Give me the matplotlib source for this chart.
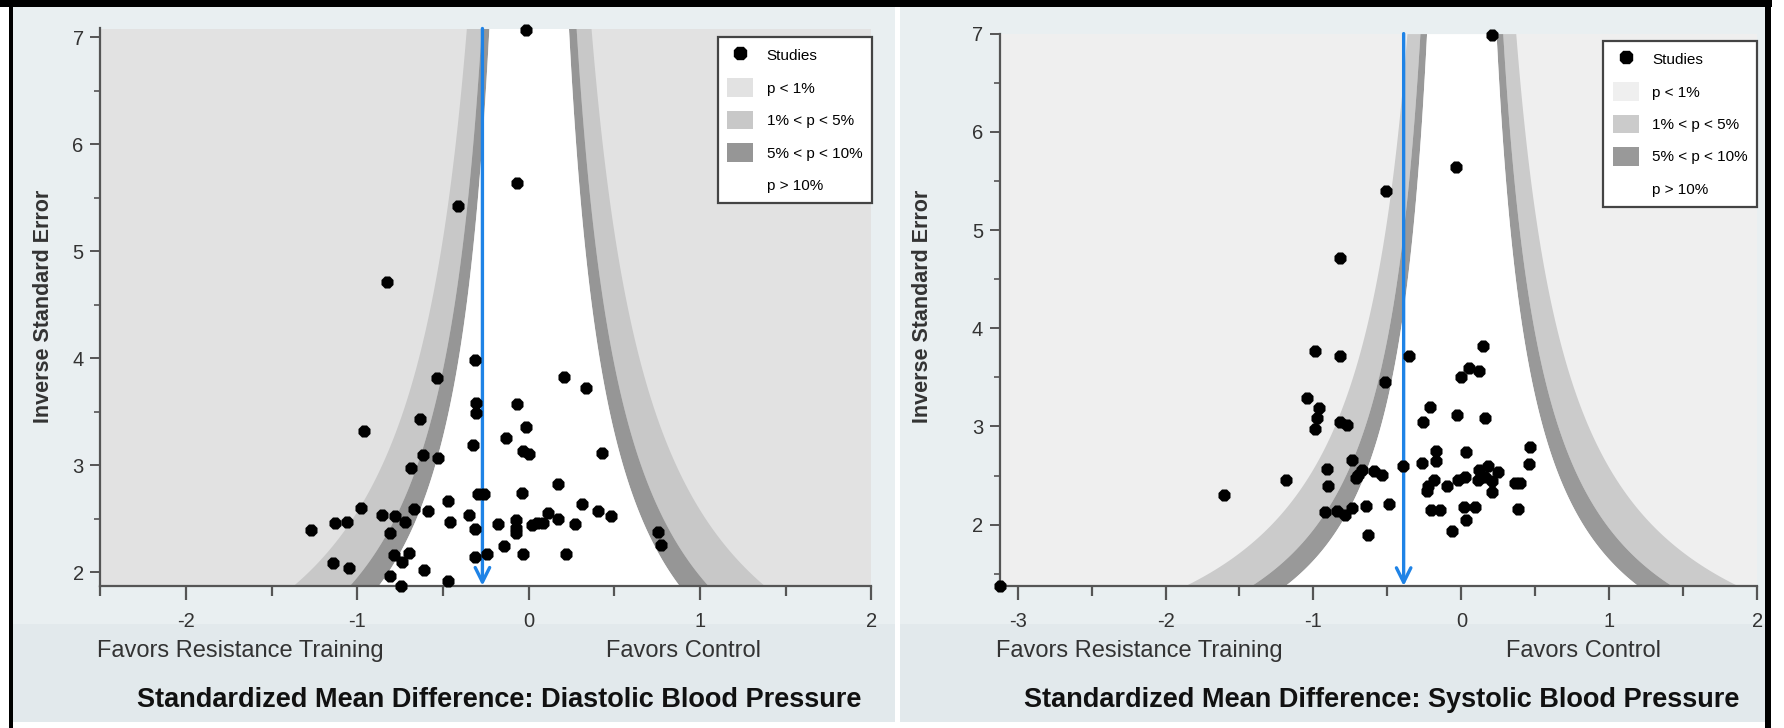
import numpy as np
import matplotlib
matplotlib.use("Agg")
import matplotlib.pyplot as plt
from matplotlib.patches import Rectangle, Patch
from matplotlib.lines import Line2D
from matplotlib import font_manager
from matplotlib.ticker import MultipleLocator

# ---------------- data ----------------
dbp_smd = [-0.016, -0.07, -0.414, -0.827, -0.315, -0.533, 0.208, 0.334, -0.307, -0.307,
           -0.07, -0.634, -0.959, -0.018, -0.131, -0.325, -0.619, -0.531, -0.031, 0.0,
           0.426, -0.685, 0.171, -0.294, -0.259, -0.037, -0.469, 0.311, -0.979, -0.668,
           -0.588, 0.406, -0.858, -0.780, -0.722, -0.347, 0.480, -1.13, -1.059, -1.27,
           -0.459, -0.313, -0.181, -0.076, -0.076, -0.076, 0.017, 0.05, 0.085, 0.115,
           0.173, 0.27, -0.81, 0.757, 0.77, -0.144, -0.784, -0.697, -0.312, -0.245,
           -0.031, 0.218, -0.738, -1.14, -1.049, -0.611, -0.811, -0.469, -0.747]
dbp_inv_se = [7.07, 5.64, 5.42, 4.71, 3.98, 3.81, 3.82, 3.72, 3.58, 3.49,
              3.57, 3.43, 3.32, 3.36, 3.25, 3.19, 3.09, 3.07, 3.13, 3.10,
              3.11, 2.97, 2.82, 2.73, 2.73, 2.74, 2.66, 2.64, 2.60, 2.59,
              2.57, 2.57, 2.53, 2.52, 2.47, 2.53, 2.52, 2.46, 2.47, 2.39,
              2.47, 2.40, 2.45, 2.49, 2.41, 2.36, 2.44, 2.46, 2.46, 2.55,
              2.50, 2.45, 2.36, 2.37, 2.25, 2.24, 2.16, 2.18, 2.14, 2.17,
              2.17, 2.17, 2.09, 2.08, 2.04, 2.02, 1.96, 1.92, 1.87]

sbp_smd = [0.208, -0.036, -0.511, -0.82, -0.82, -0.354, 0.145, -0.991, 0.054, 0.122,
           -0.004, -0.518, -1.041, -0.964, -0.212, -0.976, -0.029, 0.158, -0.989, -0.82,
           -0.775, -0.257, 0.465, -0.173, 0.03, -0.173, -0.268, -0.741, -0.392, 0.458,
           -0.91, -0.673, -0.588, -0.538, -0.696, -0.712, 0.122, 0.183, 0.25, 0.111,
           0.16, 0.205, 0.205, 0.025, -0.02, -0.099, -0.185, -0.223, -0.234, 0.363,
           0.397, 0.381, -1.185, -1.604, -0.899, -0.922, -0.843, -0.786, -0.741, -0.647,
           -0.489, -0.205, -0.144, 0.018, 0.093, 0.03, -0.065, -0.629, -3.12]
sbp_inv_se = [6.99, 5.64, 5.40, 4.71, 3.72, 3.72, 3.82, 3.77, 3.59, 3.56,
              3.50, 3.45, 3.29, 3.19, 3.20, 3.09, 3.12, 3.09, 2.97, 3.05,
              3.01, 3.04, 2.79, 2.75, 2.74, 2.65, 2.63, 2.66, 2.60, 2.62,
              2.57, 2.56, 2.55, 2.51, 2.51, 2.47, 2.56, 2.60, 2.54, 2.45,
              2.49, 2.44, 2.33, 2.49, 2.45, 2.39, 2.45, 2.39, 2.34, 2.42,
              2.42, 2.16, 2.45, 2.30, 2.39, 2.13, 2.14, 2.10, 2.17, 2.19,
              2.21, 2.15, 2.15, 2.18, 2.18, 2.05, 1.94, 1.89, 1.38]

dbp_pooled = -0.27
sbp_pooled = -0.39

# critical z values for contour bands (two-sided 10%, 5%, 1%)
Z_10, Z_05, Z_01 = 1.645, 1.960, 2.576

legend_labels = ["Studies", "p < 1%", "1% < p < 5%", "5% < p < 10%", "p > 10%"]
x_left_label = "Favors Resistance Training"
x_right_label = "Favors Control"
ylabel = "Inverse Standard Error"
titles = ["Standardized Mean Difference: Diastolic Blood Pressure",
          "Standardized Mean Difference: Systolic Blood Pressure"]

# ---------------- fonts ----------------
names = {f.name for f in font_manager.fontManager.ttflist}
fam = []
for n in ["Liberation Sans Narrow", "Liberation Sans", "DejaVu Sans"]:
    if n in names:
        fam.append(n)
plt.rcParams["font.family"] = fam
plt.rcParams["axes.unicode_minus"] = False

W, H = 1784, 728
fig = plt.figure(figsize=(W / 100, H / 100), dpi=100)
fig.patch.set_facecolor("white")

def px_rect(x0, y0, x1, y1, color, z=-5):
    fig.patches.append(Rectangle((x0 / W, 1 - y1 / H), (x1 - x0) / W, (y1 - y0) / H,
                                 transform=fig.transFigure, facecolor=color,
                                 edgecolor="none", zorder=z))

panel_bg = "#e9eff1"
band_bg = "#e2e9ec"
# panel backgrounds
px_rect(13, 7, 895, 624, panel_bg)
px_rect(13, 624, 895, 722, band_bg)
px_rect(900, 7, 1765, 624, panel_bg)
px_rect(900, 624, 1765, 722, band_bg)
# black frame pieces
px_rect(0, 0, 1772, 7, "black", -4)
px_rect(9, 0, 13, 728, "black", -4)
px_rect(1765, 0, 1771, 728, "black", -4)

ink = "#333333"
blue = "#1f83e6"

def funnel(ax, xs, ys, pooled, xlim, ylim, outer_col, light_col, dark_col, leg_anchor):
    ax.set_zorder(5)
    ax.set_xlim(*xlim)
    ax.set_ylim(*ylim)
    ax.set_facecolor(outer_col)
    yy = np.linspace(ylim[0], ylim[1], 400)
    for s in (-1, 1):
        ax.fill_betweenx(yy, s * Z_05 / yy, s * Z_01 / yy, color=light_col, lw=0, zorder=1)
        ax.fill_betweenx(yy, s * Z_10 / yy, s * Z_05 / yy, color=dark_col, lw=0, zorder=1)
    ax.fill_betweenx(yy, -Z_10 / yy, Z_10 / yy, color="white", lw=0, zorder=1)
    ax.annotate("", xy=(pooled, ylim[0]), xytext=(pooled, ylim[1]),
                arrowprops=dict(arrowstyle="->", color=blue, lw=2.4,
                                mutation_scale=26, shrinkA=0, shrinkB=0), zorder=4)
    ax.scatter(xs, ys, marker="8", s=88, color="black", zorder=5, clip_on=False, lw=0)
    for sp in ("top", "right"):
        ax.spines[sp].set_visible(False)
    for sp in ("left", "bottom"):
        ax.spines[sp].set_color("#555555")
        ax.spines[sp].set_linewidth(1.6)
    ax.xaxis.set_major_locator(MultipleLocator(1))
    ax.xaxis.set_minor_locator(MultipleLocator(0.5))
    ax.yaxis.set_major_locator(MultipleLocator(1))
    ax.yaxis.set_minor_locator(MultipleLocator(0.5))
    ax.tick_params(axis="x", which="major", length=10, width=1.6, color="#555555",
                   labelsize=14.5, labelcolor=ink, pad=9)
    ax.tick_params(axis="x", which="minor", length=7, width=1.6, color="#555555")
    ax.tick_params(axis="y", which="major", length=7, width=1.4, color="#555555",
                   labelsize=14.5, labelcolor=ink, pad=5)
    ax.tick_params(axis="y", which="minor", length=4, width=1.2, color="#555555")
    handles = [Line2D([], [], marker="8", color="black", ls="none", markersize=10),
               Patch(facecolor=outer_col, edgecolor="none"),
               Patch(facecolor=light_col, edgecolor="none"),
               Patch(facecolor=dark_col, edgecolor="none"),
               Patch(facecolor="white", edgecolor="none")]
    leg = ax.legend(handles, legend_labels, loc="upper left", bbox_to_anchor=leg_anchor,
                    frameon=True, fancybox=False, framealpha=1, edgecolor="#444444",
                    prop={"size": 11}, borderpad=0.6, labelspacing=0.9,
                    handlelength=1.7, handleheight=1.5, handletextpad=0.9,
                    borderaxespad=0)
    leg.get_frame().set_linewidth(1.6)
    leg.set_zorder(10)

# Left panel (diastolic)
axL = fig.add_axes([100.3 / W, 1 - 585.7 / H, 771.1 / W, 557.2 / H])
funnel(axL, dbp_smd, dbp_inv_se, dbp_pooled, (-2.5, 2.0), (1.872, 7.08),
       "#e2e2e2", "#c8c8c8", "#969696", (0.801, 0.985))
# Right panel (systolic)
axR = fig.add_axes([999.9 / W, 1 - 586.0 / H, 757.2 / W, 552.4 / H])
funnel(axR, sbp_smd, sbp_inv_se, sbp_pooled, (-3.12, 2.0), (1.375, 7.0),
       "#efefef", "#cbcbcb", "#999999", (0.797, 0.987))

def ftext(xpx, ypx, s, **kw):
    fig.text(xpx / W, 1 - ypx / H, s, **kw)

for cx_ylab, c_left, c_right in [(44, 240, 684), (922, 1139, 1584)]:
    ftext(cx_ylab, 306, ylabel, rotation=90, ha="center", va="center",
          fontsize=15.5, fontweight="bold", color=ink)
    ftext(c_left, 651, x_left_label, ha="center", va="center", fontsize=17, color=ink)
    ftext(c_right, 651, x_right_label, ha="center", va="center", fontsize=17, color=ink)

ftext(499, 700, titles[0], ha="center", va="center", fontsize=19.5,
      fontweight="bold", color="#111111")
ftext(1382, 700, titles[1], ha="center", va="center", fontsize=19.5,
      fontweight="bold", color="#111111")

fig.savefig("out.png", dpi=100, facecolor="white")
